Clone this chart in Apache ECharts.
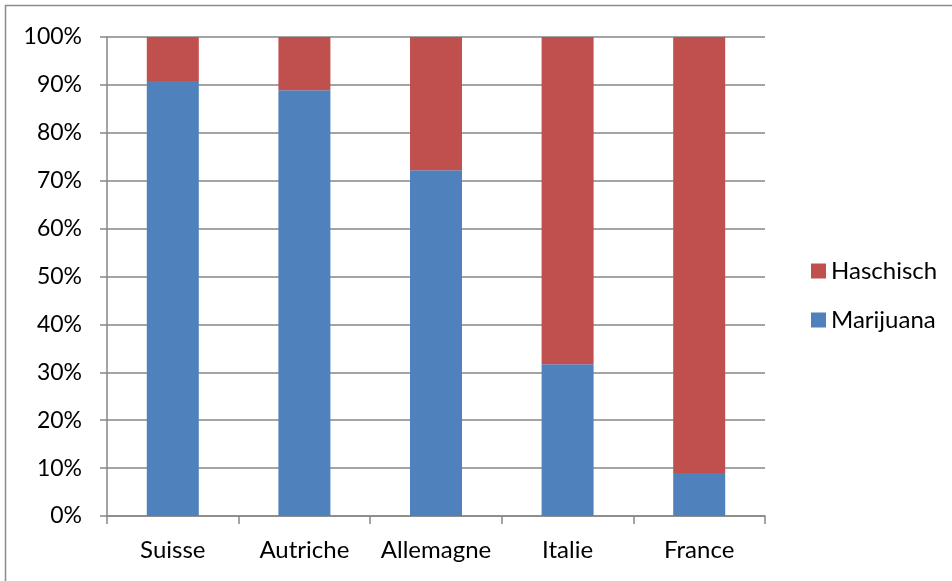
<!DOCTYPE html>
<html><head><meta charset="utf-8">
<script src="https://cdn.jsdelivr.net/npm/echarts@6/dist/echarts.min.js"></script>
<style>html,body{margin:0;padding:0;background:#fff}#c{width:952px;height:581px}</style>
</head><body><div id="c"></div>
<script>
const categories = ['Suisse', 'Autriche', 'Allemagne', 'Italie', 'France'];
const marijuana = [90.8, 88.9, 72.2, 31.7, 9.0];
const haschisch = [9.2, 11.1, 27.8, 68.3, 91.0];
const yTicks = [0, 10, 20, 30, 40, 50, 60, 70, 80, 90, 100];

const font = 'Lato, "Open Sans", sans-serif';
const chart = echarts.init(document.getElementById('c'));
chart.setOption({
  animation: false,
  graphic: [{
    type: 'rect', silent: true,
    shape: { x: 5.5, y: 5.5, width: 1000, height: 1000 },
    style: { fill: 'none', stroke: '#8c8c8c', lineWidth: 1.5 }
  }],
  grid: { left: 107, right: 187, top: 37, bottom: 65 },
  legend: {
    orient: 'vertical', left: 806, top: 254, itemWidth: 15, itemHeight: 15, itemGap: 25,
    icon: 'rect',
    data: ['Haschisch', 'Marijuana'],
    textStyle: { fontFamily: font, fontSize: 24, color: '#000' }
  },
  xAxis: {
    type: 'category', data: categories,
    axisLine: { lineStyle: { color: '#868686', width: 1.5 } },
    axisTick: { show: true, interval: 0, length: 8, lineStyle: { color: '#868686', width: 1.5 } },
    axisLabel: { interval: 0, fontFamily: font, fontSize: 24, color: '#000', margin: 22 }
  },
  yAxis: {
    type: 'value', min: 0, max: 100, interval: 10,
    axisLine: { show: true, lineStyle: { color: '#868686', width: 1.5 } },
    axisTick: { show: true, length: 7, lineStyle: { color: '#868686', width: 1.5 } },
    splitLine: { lineStyle: { color: '#868686', width: 1.5 } },
    axisLabel: { fontFamily: font, fontSize: 23, color: '#000', margin: 25,
      formatter: v => yTicks.includes(v) ? v + '%' : '' }
  },
  series: [
    { name: 'Marijuana', type: 'bar', stack: 't', data: marijuana, barWidth: 52,
      itemStyle: { color: '#4F81BD' } },
    { name: 'Haschisch', type: 'bar', stack: 't', data: haschisch, barWidth: 52,
      itemStyle: { color: '#C0504D' } }
  ]
});
</script></body></html>
